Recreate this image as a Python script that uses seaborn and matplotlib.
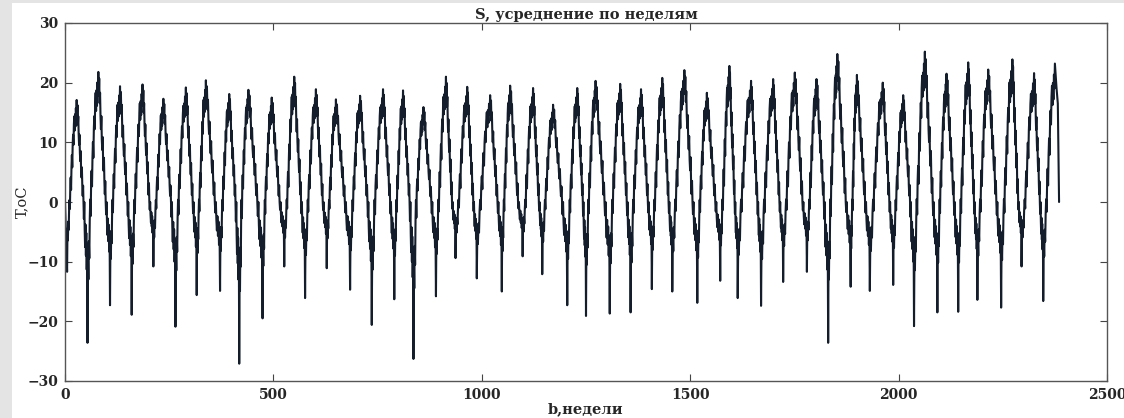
import matplotlib
matplotlib.use("Agg")
import matplotlib.pyplot as plt
import pandas as pd
import seaborn as sns
from matplotlib.patches import Rectangle

# Weekly-averaged air temperature: winter minimum and summer maximum of each year
trough_week = [5, 54, 108, 160, 212, 265, 316, 372, 418, 474, 526, 576, 628, 684, 736,
               790, 836, 890, 937, 988, 1048, 1098, 1145, 1205, 1250, 1307, 1357, 1408,
               1457, 1517, 1572, 1614, 1670, 1723, 1780, 1831, 1885, 1931, 1987, 2037,
               2093, 2143, 2189, 2246, 2295, 2347]
trough_temp = [-11.7, -23.6, -17.3, -18.9, -10.8, -20.9, -15.6, -14.9, -27.1, -19.5,
               -10.8, -16.1, -11.1, -14.7, -20.6, -16.3, -26.3, -15.8, -9.4, -12.8,
               -15.0, -9.1, -12.1, -17.3, -19.1, -18.7, -18.5, -14.6, -15.0, -16.9,
               -13.2, -16.1, -17.4, -13.4, -11.7, -23.6, -14.2, -14.9, -13.9, -20.8,
               -18.5, -18.4, -16.4, -17.7, -10.8, -16.6]
peak_week = [28, 80, 132, 186, 236, 290, 338, 394, 440, 496, 550, 602, 650, 708, 763,
             811, 860, 914, 965, 1020, 1068, 1123, 1171, 1229, 1273, 1332, 1382, 1433,
             1486, 1540, 1594, 1646, 1699, 1751, 1803, 1853, 1900, 1962, 2011, 2063,
             2115, 2167, 2215, 2273, 2325, 2375]
peak_temp = [17.1, 21.8, 19.4, 19.7, 17.3, 19.2, 20.4, 18.1, 18.8, 17.5, 21.0, 18.9,
             17.2, 17.8, 18.9, 18.7, 15.9, 21.0, 19.3, 17.9, 19.5, 19.1, 16.3, 19.1,
             20.3, 19.8, 18.9, 20.8, 22.1, 18.3, 22.8, 20.3, 20.6, 21.7, 20.6, 24.8,
             21.3, 20.0, 17.9, 25.2, 21.5, 23.4, 22.2, 23.9, 21.6, 23.2]

# first and last weeks of the record
start_week = [0]
start_temp = [0.0]
end_week = [2379, 2382, 2385]
end_temp = [19.0, 16.5, 0.0]

# typical weekly course between the extremes, as a share of the extreme
rise_shape = [-1.00, -0.38, -0.55, -0.28, -0.40, -0.12, 0.02, -0.10, 0.14, 0.24,
              0.12, 0.34, 0.46, 0.34, 0.56, 0.66, 0.56, 0.76, 0.84, 0.70, 0.86, 0.74,
              0.92, 0.82, 1.00]
fall_shape = [1.00, 0.82, 0.95, 0.76, 0.84, 0.66, 0.56, 0.66, 0.48, 0.40, 0.50, 0.32,
              0.24, 0.34, 0.16, 0.06, 0.16, 0.00, -0.12, 0.00, -0.20, -0.32, -0.16,
              -0.38, -0.22, -0.48, -0.30, -1.00]


def level(share, low, high):
    return share * high if share >= 0 else -share * low


weeks = list(start_week)
temps = list(start_temp)
n_years = len(trough_week)
for k in range(n_years):
    t0, tv = trough_week[k], trough_temp[k]
    p0, pv = peak_week[k], peak_temp[k]
    n_r = len(rise_shape) - 1
    for i, s in enumerate(rise_shape):
        weeks.append(t0 + (p0 - t0) * i / n_r)
        temps.append(level(s, tv, pv))
    if k + 1 < n_years:
        t1, tv1 = trough_week[k + 1], trough_temp[k + 1]
        n_f = len(fall_shape) - 1
        for i in range(1, n_f):
            weeks.append(p0 + (t1 - p0) * i / n_f)
            temps.append(level(fall_shape[i], tv1, pv))
weeks += end_week
temps += end_temp

df = pd.DataFrame({"week": weeks, "T": temps})

sns.set_style("ticks")
plt.rcParams["font.family"] = ["DejaVu Serif"]

fig = plt.figure(figsize=(11.24, 4.18), dpi=100)
fig.patch.set_facecolor("white")
fig.patches.append(Rectangle((0, 0), 12 / 1124, 1, transform=fig.transFigure,
                             facecolor="#e4e4e4", edgecolor="none", zorder=0))
fig.patches.append(Rectangle((0, 1 - 3 / 418), 1, 3 / 418, transform=fig.transFigure,
                             facecolor="#e4e4e4", edgecolor="none", zorder=0))

ax = fig.add_axes([65 / 1124, 1 - 381 / 418, (1107 - 65) / 1124, (381 - 23) / 418])
sns.lineplot(data=df, x="week", y="T", ax=ax, estimator=None, sort=False,
             color="#131d2b", linewidth=1.5)

ax.set_xlim(0, 2500)
ax.set_ylim(-30, 30)
ax.set_xticks(range(0, 2501, 500))
ax.set_yticks(range(-30, 31, 10))
ax.tick_params(direction="in", top=True, right=True, length=5, width=0.8,
               color="#444444", labelsize=10, pad=5)
for lab in ax.get_xticklabels() + ax.get_yticklabels():
    lab.set_fontweight("bold")
for sp in ax.spines.values():
    sp.set_visible(True)
    sp.set_color("#555555")
    sp.set_linewidth(1.0)

ax.set_title("S, усреднение по неделям", fontsize=10.5, fontweight="bold", pad=3)
ax.set_xlabel("b,недели", fontsize=10.5, fontweight="bold", labelpad=0)
ax.set_ylabel("T,oC", fontsize=10.5)
ax.yaxis.set_label_coords(-0.034, 0.5)

fig.savefig("out.png", dpi=100, facecolor=fig.get_facecolor())
